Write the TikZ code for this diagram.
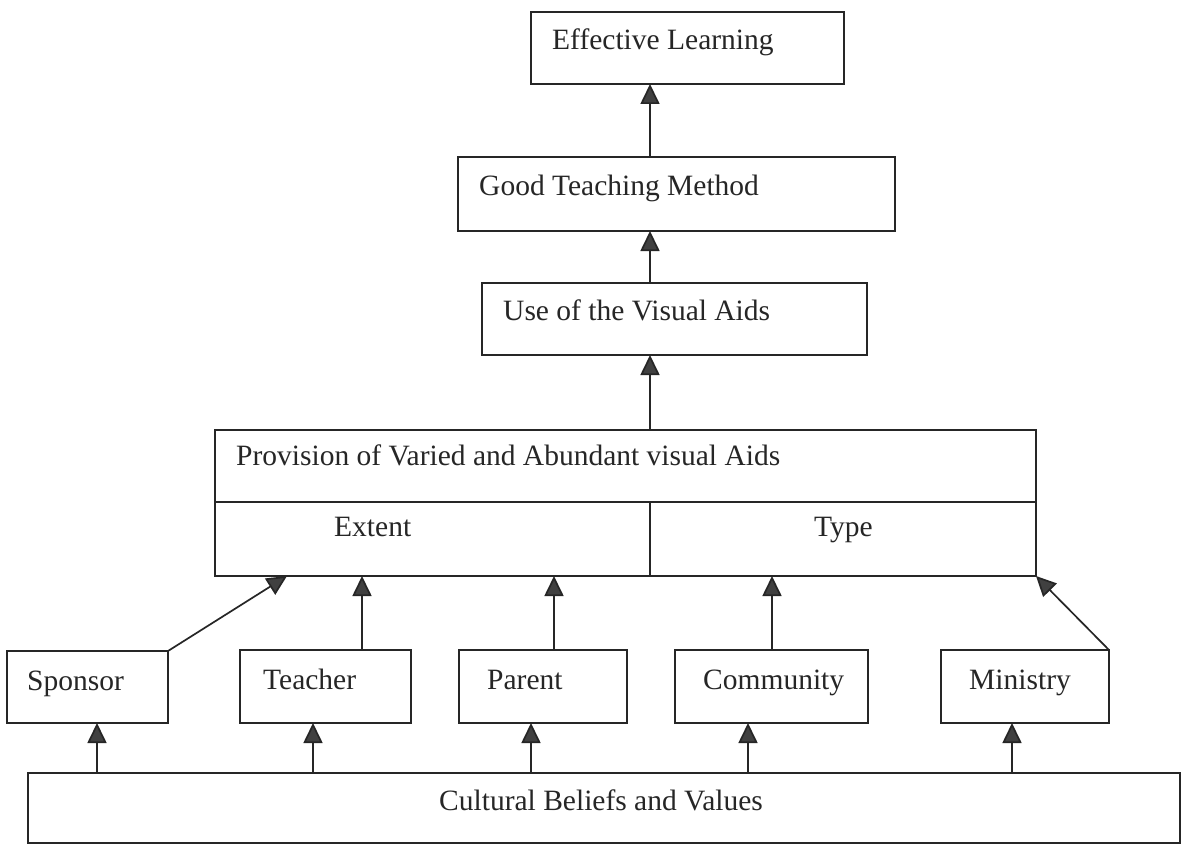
\documentclass[tikz,border=0pt]{standalone}
\usepackage{fontspec}
\setmainfont{Liberation Serif}
\usetikzlibrary{arrows.meta}
\begin{document}
\begin{tikzpicture}[x=1pt,y=-1pt,
  box/.style={draw=black!85, line width=1.7pt, rectangle, anchor=north west, inner sep=0pt, outer sep=0pt},
  lbl/.style={anchor=base west, inner sep=0pt, text=black!85, font=\fontsize{29.5}{35}\selectfont},
  arr/.style={draw=black!85, line width=1.7pt, -{Triangle[length=20pt,width=19pt,fill=black!75]}}]
\useasboundingbox[fill=white] (0,0) rectangle (1183,845);
% boxes
\node[box, minimum width=313pt, minimum height=72pt] (eff) at (531,12) {};
\node[box, minimum width=437pt, minimum height=74pt] (good) at (458,157) {};
\node[box, minimum width=385pt, minimum height=72pt] (use) at (482,283) {};
\node[box, minimum width=821pt, minimum height=146pt] (prov) at (215,430) {};
\node[box, minimum width=161pt, minimum height=72pt] (spon) at (7,651) {};
\node[box, minimum width=171pt, minimum height=73pt] (teach) at (240,650) {};
\node[box, minimum width=168pt, minimum height=73pt] (par) at (459,650) {};
\node[box, minimum width=193pt, minimum height=73pt] (comm) at (675,650) {};
\node[box, minimum width=168pt, minimum height=73pt] (min) at (941,650) {};
\node[box, minimum width=1152pt, minimum height=70pt] (cult) at (28,773) {};
% provision dividers
\coordinate (mid) at (650,502);
\draw[draw=black!85, line width=1.7pt] (prov.west |- mid) -- (prov.east |- mid);
\draw[draw=black!85, line width=1.7pt] (mid) -- (mid |- prov.south);
% labels
\node[lbl] (teff) at (552,50) {Effective Learning};
\node[lbl] (tgood) at (479,196) {Good Teaching Method};
\node[lbl] (tuse) at (503,320) {Use of the Visual Aids};
\node[lbl] (tprov) at (236,465) {Provision of Varied and Abundant visual Aids};
\node[lbl] (text) at (334,536) {Extent};
\node[lbl] (ttype) at (814,536) {Type};
\node[lbl] (tspon) at (27,690) {Sponsor};
\node[lbl] (tteach) at (263,689) {Teacher};
\node[lbl] (tpar) at (487,689) {Parent};
\node[lbl] (tcomm) at (703,689) {Community};
\node[lbl] (tmin) at (969,689) {Ministry};
\node[lbl] (tcult) at (439,810) {Cultural Beliefs and Values};
% connector x positions
\coordinate (x650) at (650,0);
\coordinate (xsp) at (287,0);
\coordinate (xte) at (362,0);
\coordinate (xpa) at (554,0);
\coordinate (xco) at (772,0);
\coordinate (c1) at (97,0);
\coordinate (c2) at (313,0);
\coordinate (c3) at (531,0);
\coordinate (c4) at (748,0);
\coordinate (c5) at (1012,0);
% main chain
\draw[arr] (good.north -| x650) -- (eff.south -| x650);
\draw[arr] (use.north -| x650) -- (good.south -| x650);
\draw[arr] (prov.north -| x650) -- (use.south -| x650);
% actors to provision
\draw[arr] (spon.north east) -- (prov.south -| xsp);
\draw[arr] (teach.north -| xte) -- (prov.south -| xte);
\draw[arr] (par.north -| xpa) -- (prov.south -| xpa);
\draw[arr] (comm.north -| xco) -- (prov.south -| xco);
\draw[arr] (min.north east) -- (prov.south east);
% culture to actors
\draw[arr] (cult.north -| c1) -- (spon.south -| c1);
\draw[arr] (cult.north -| c2) -- (teach.south -| c2);
\draw[arr] (cult.north -| c3) -- (par.south -| c3);
\draw[arr] (cult.north -| c4) -- (comm.south -| c4);
\draw[arr] (cult.north -| c5) -- (min.south -| c5);
\end{tikzpicture}
\end{document}
